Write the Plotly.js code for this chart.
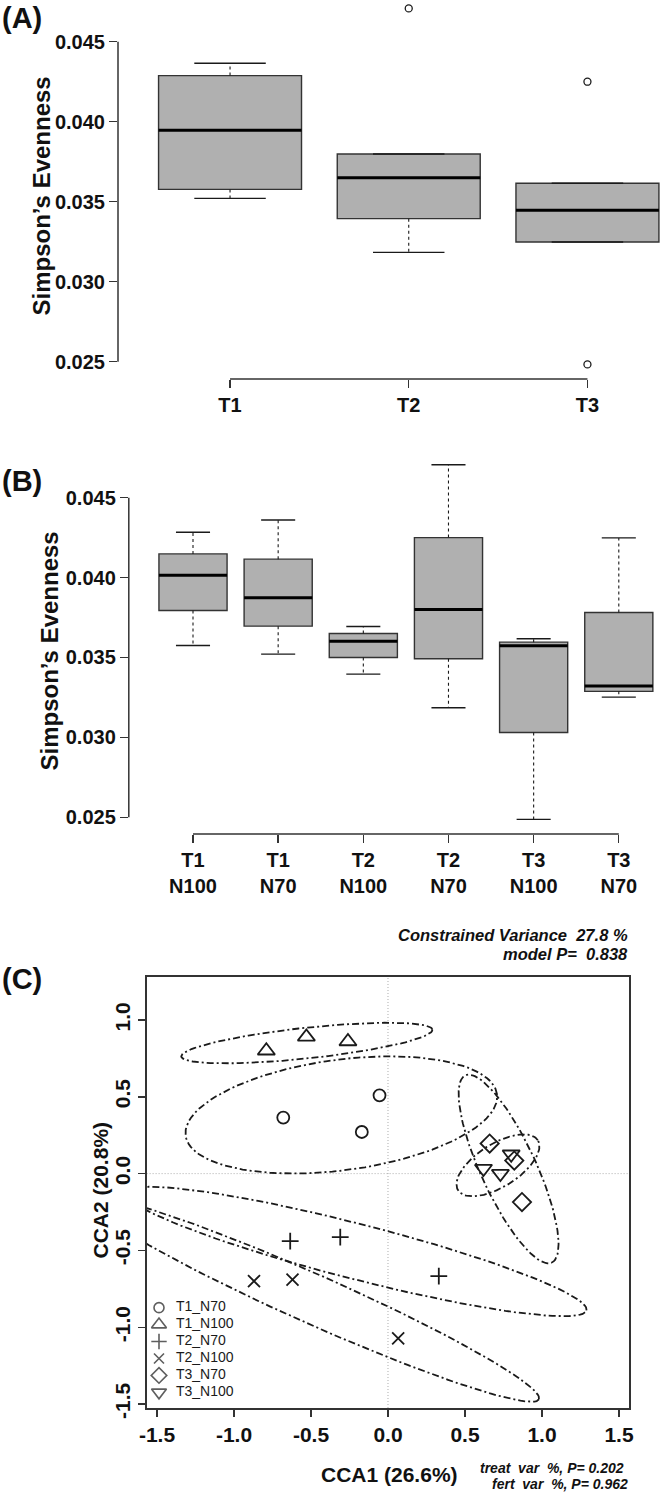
<!DOCTYPE html>
<html>
<head>
<meta charset="utf-8">
<script src="https://cdn.plot.ly/plotly-3.0.1.min.js"></script>
<style>
  html, body { margin: 0; padding: 0; background: #fff; }
  #chart { width: 665px; height: 1493px; }
</style>
</head>
<body>
<div id="chart"></div>
<script>
// ---- (A) Simpson's evenness by treatment: box stats
const groupsA = ["T1", "T2", "T3"];
const lowA = [0.03521, 0.03183, 0.03248];
const q1A = [0.03577, 0.03394, 0.03248];
const medA = [0.03946, 0.03650, 0.03446];
const q3A = [0.04288, 0.03798, 0.03615];
const highA = [0.04365, 0.03798, 0.03615];
const outPosA = [2, 3, 3];
const outValA = [0.04708, 0.04250, 0.02483];

// ---- (B) treatment x fertilisation
const groupsB = ["T1<br>N100", "T1<br>N70", "T2<br>N100", "T2<br>N70", "T3<br>N100", "T3<br>N70"];
const lowB = [0.03575, 0.03521, 0.03396, 0.03185, 0.02487, 0.03252];
const q1B = [0.03794, 0.03696, 0.03500, 0.03492, 0.03031, 0.03288];
const medB = [0.04015, 0.03873, 0.03602, 0.03800, 0.03573, 0.03321];
const q3B = [0.04148, 0.04115, 0.03650, 0.04250, 0.03596, 0.03781];
const highB = [0.04283, 0.04360, 0.03694, 0.04706, 0.03617, 0.04248];

const evenTicks = [0.025, 0.030, 0.035, 0.040, 0.045];

// ---- (C) CCA site scores, one row per group
const ccaGroups = ["T1_N70", "T1_N100", "T2_N70", "T2_N100", "T3_N70", "T3_N100"];
const ccaX = [
  [-0.68, -0.17, -0.055],
  [-0.79, -0.53, -0.26],
  [-0.635, -0.31, 0.33],
  [-0.87, -0.62, 0.066],
  [0.66, 0.82, 0.87],
  [0.80, 0.62, 0.73]
];
const ccaY = [
  [0.365, 0.271, 0.51],
  [0.80, 0.89, 0.86],
  [-0.44, -0.413, -0.667],
  [-0.70, -0.69, -1.072],
  [0.196, 0.085, -0.185],
  [0.126, 0.033, 0.0]
];
const ccaSymbols = ["circle-open", "triangle-up-open", "cross-thin-open", "x-thin-open", "diamond-open", "triangle-down-open"];
const ccaSizes = [12, 15, 12, 12, 14, 15];
const legendSizes = [10, 13, 11, 10, 12, 13];

// group ellipses: centre, semi-axes, rotation (deg)
const ellCx = [-0.303, -0.527, -0.205, -0.476, 0.783, 0.714];
const ellCy = [0.382, 0.85, -0.507, -0.821, 0.03, 0.054];
const ellA = [1.02, 0.82, 1.543, 1.594, 0.671, 0.306];
const ellB = [0.36, 0.10, 0.18, 0.16, 0.18, 0.14];
const ellAng = [7.6, 6.1, -14.4, -24.0, -65.3, 32.2];

const ccaTicksX = [-1.5, -1.0, -0.5, 0.0, 0.5, 1.0, 1.5];
const ccaTicksY = [-1.5, -1.0, -0.5, 0.0, 0.5, 1.0];

// ---------------------------------------------------------------
const W = 665, H = 1493;
const px = v => v / W;
const py = v => 1 - v / H;
const INK = "#1a1a1a";
const FONT = "Liberation Sans, Arial, sans-serif";

function boxTraces(low, q1, med, q3, high, xa, ya) {
  const pos = med.map((_, i) => i + 1);
  const wx = [], wy = [], cx = [], cy = [], mx = [], my = [];
  pos.forEach((p, i) => {
    if (high[i] > q3[i]) { wx.push(p, p, null); wy.push(q3[i], high[i], null); }
    if (low[i] < q1[i]) { wx.push(p, p, null); wy.push(q1[i], low[i], null); }
    cx.push(p - 0.2, p + 0.2, null, p - 0.2, p + 0.2, null);
    cy.push(high[i], high[i], null, low[i], low[i], null);
    mx.push(p - 0.4, p + 0.4, null);
    my.push(med[i], med[i], null);
  });
  return [
    {
      type: "box", x: pos, q1: q1, median: med, q3: q3,
      lowerfence: q1, upperfence: q3, width: 0.8, whiskerwidth: 0,
      boxpoints: false, fillcolor: "#b0b0b0",
      line: { color: "#333", width: 1.4 },
      xaxis: xa, yaxis: ya, showlegend: false, hoverinfo: "skip"
    },
    {
      type: "scatter", mode: "lines", x: wx, y: wy,
      line: { color: INK, width: 1.1, dash: "3px,3px" },
      xaxis: xa, yaxis: ya, showlegend: false, hoverinfo: "skip"
    },
    {
      type: "scatter", mode: "lines", x: cx, y: cy,
      line: { color: INK, width: 1.4 },
      xaxis: xa, yaxis: ya, showlegend: false, hoverinfo: "skip"
    },
    {
      type: "scatter", mode: "lines", x: mx, y: my,
      line: { color: "#000", width: 3 },
      xaxis: xa, yaxis: ya, showlegend: false, hoverinfo: "skip"
    }
  ];
}

const data = [];
data.push(...boxTraces(lowA, q1A, medA, q3A, highA, "x", "y"));
data.push({
  type: "scatter", mode: "markers", x: outPosA, y: outValA,
  marker: { symbol: "circle-open", size: 7, color: INK, line: { width: 1.3 } },
  xaxis: "x", yaxis: "y", showlegend: false, hoverinfo: "skip"
});
data.push(...boxTraces(lowB, q1B, medB, q3B, highB, "x2", "y2"));

// ellipse outlines
ellCx.forEach((cx, g) => {
  const ex = [], ey = [];
  const t = ellAng[g] * Math.PI / 180;
  for (let k = 0; k <= 120; k++) {
    const s = 2 * Math.PI * k / 120;
    const u = ellA[g] * Math.cos(s), v = ellB[g] * Math.sin(s);
    ex.push(cx + u * Math.cos(t) - v * Math.sin(t));
    ey.push(ellCy[g] + u * Math.sin(t) + v * Math.cos(t));
  }
  data.push({
    type: "scatter", mode: "lines", x: ex, y: ey,
    line: { color: INK, width: 1.8, dash: "7px,3px,2px,3px" },
    xaxis: "x3", yaxis: "y3", showlegend: false, hoverinfo: "skip"
  });
});

ccaGroups.forEach((name, g) => {
  data.push({
    type: "scatter", mode: "markers", name: name,
    x: ccaX[g], y: ccaY[g],
    marker: { symbol: ccaSymbols[g], size: ccaSizes[g], color: INK, line: { color: INK, width: 1.8 } },
    xaxis: "x3", yaxis: "y3", showlegend: false, hoverinfo: "skip"
  });
});

// R-style key: one row per group on its own little overlay axis
const rows = ccaGroups.map((_, i) => i);
data.push({
  type: "scatter", mode: "markers", x: rows.map(() => 9), y: rows,
  marker: { symbol: ccaSymbols, size: legendSizes, color: INK, line: { color: INK, width: 1.6 } },
  xaxis: "x4", yaxis: "y4", showlegend: false, hoverinfo: "skip", cliponaxis: false
});
data.push({
  type: "scatter", mode: "text", x: rows.map(() => 26), y: rows, text: ccaGroups,
  textposition: "middle right", textfont: { family: FONT, size: 14, color: INK },
  xaxis: "x4", yaxis: "y4", showlegend: false, hoverinfo: "skip", cliponaxis: false
});

const tickFont = { family: FONT, size: 20, weight: "bold", color: "#111" };
const axBase = {
  showgrid: false, zeroline: false, showline: false,
  ticks: "outside", ticklen: 8, tickwidth: 1.4, tickcolor: "#333",
  tickfont: tickFont, fixedrange: true
};
const axLine = { color: "#333", width: 1.5 };

const layout = {
  width: W, height: H,
  margin: { l: 0, r: 0, t: 0, b: 0 },
  paper_bgcolor: "#fff", plot_bgcolor: "rgba(0,0,0,0)",
  font: { family: FONT, color: "#111" },
  showlegend: false,
  xaxis: Object.assign({}, axBase, {
    domain: [px(118), 1], range: [0.373, 3.434], anchor: "y",
    tickvals: [1, 2, 3], ticktext: groupsA
  }),
  yaxis: Object.assign({}, axBase, {
    domain: [py(379), 1], range: [0.023919, 0.047606], anchor: "x",
    tickvals: evenTicks, ticktext: evenTicks.map(v => v.toFixed(3))
  }),
  xaxis2: Object.assign({}, axBase, {
    domain: [px(128.8), 1], range: [0.2461, 6.5425], anchor: "y2",
    tickvals: [1, 2, 3, 4, 5, 6], ticktext: groupsB
  }),
  yaxis2: Object.assign({}, axBase, {
    domain: [py(834), py(450)], range: [0.023956, 0.04798], anchor: "x2",
    tickvals: evenTicks, ticktext: evenTicks.map(v => v.toFixed(3))
  }),
  xaxis3: Object.assign({}, axBase, {
    domain: [px(146.6), px(629)], range: [-1.5675, 1.565], anchor: "y3",
    showline: true, mirror: true, linecolor: "#333", linewidth: 1.5, ticklen: 7,
    tickvals: ccaTicksX, ticktext: ccaTicksX.map(v => v.toFixed(1)),
    tickfont: Object.assign({}, tickFont, { size: 21 })
  }),
  yaxis3: Object.assign({}, axBase, {
    domain: [py(1408), py(976.7)], range: [-1.526, 1.282], anchor: "x3",
    showline: true, mirror: true, linecolor: "#333", linewidth: 1.5, ticklen: 7,
    tickvals: ccaTicksY, ticktext: ccaTicksY.map(v => v.toFixed(1)), tickangle: -90,
    tickfont: Object.assign({}, tickFont, { size: 21 })
  }),
  // key axes: 1 unit = 1 px across, one unit per row down
  xaxis4: { domain: [px(150), px(250)], range: [0, 100], anchor: "y4", visible: false, fixedrange: true },
  yaxis4: { domain: [py(1400.8), py(1299.2)], range: [5.5, -0.5], anchor: "x4", visible: false, fixedrange: true },
  shapes: [
    // R-style axis lines that stop at the outer ticks
    { type: "line", xref: "x domain", yref: "y", x0: 0, x1: 0, y0: 0.025, y1: 0.045, line: axLine },
    { type: "line", xref: "x", yref: "y domain", x0: 1, x1: 3, y0: 0, y1: 0, line: axLine },
    { type: "line", xref: "x2 domain", yref: "y2", x0: 0, x1: 0, y0: 0.025, y1: 0.045, line: axLine },
    { type: "line", xref: "x2", yref: "y2 domain", x0: 1, x1: 6, y0: 0, y1: 0, line: axLine },
    // CCA origin guides
    { type: "line", xref: "x3", yref: "y3 domain", x0: 0, x1: 0, y0: 0, y1: 1, line: { color: "#999", width: 0.8, dash: "1px,2px" }, layer: "below" },
    { type: "line", xref: "x3 domain", yref: "y3", x0: 0, x1: 1, y0: 0, y1: 0, line: { color: "#999", width: 0.8, dash: "1px,2px" }, layer: "below" }
  ],
  annotations: [
    { text: "(A)", x: px(1), y: py(18.5), xanchor: "left", font: { size: 29, weight: "bold" } },
    { text: "(B)", x: px(1), y: py(481), xanchor: "left", font: { size: 29, weight: "bold" } },
    { text: "(C)", x: px(1), y: py(979), xanchor: "left", font: { size: 29, weight: "bold" } },
    { text: "Simpson\u2019s Evenness", x: px(26), y: py(196), textangle: -90, font: { size: 24, weight: "bold" } },
    { text: "Simpson\u2019s Evenness", x: px(35), y: py(651), textangle: -90, font: { size: 24, weight: "bold" } },
    { text: "Constrained Variance \u00a027.8 %", x: px(629), y: py(934.5), xanchor: "right", font: { size: 16.5, weight: "bold", style: "italic" } },
    { text: "model P= \u00a00.838", x: px(629), y: py(953.5), xanchor: "right", font: { size: 16.5, weight: "bold", style: "italic" } },
    { text: "CCA2 (20.8%)", x: px(87), y: py(1190), textangle: -90, font: { size: 21, weight: "bold" } },
    { text: "CCA1 (26.6%)", x: px(389), y: py(1474), font: { size: 21, weight: "bold" } },
    { text: "treat \u00a0var \u00a0%, P= 0.202", x: px(625), y: py(1468), xanchor: "right", font: { size: 14, weight: "bold", style: "italic" } },
    { text: "fert \u00a0var \u00a0%, P= 0.962", x: px(629), y: py(1484), xanchor: "right", font: { size: 14, weight: "bold", style: "italic" } }
  ].map(a => Object.assign({ xref: "paper", yref: "paper", showarrow: false, yanchor: "middle", borderpad: 0 }, a,
    { font: Object.assign({ family: FONT, color: "#111" }, a.font) }))
};

Plotly.newPlot("chart", data, layout, { displayModeBar: false, staticPlot: true });
</script>
</body>
</html>
